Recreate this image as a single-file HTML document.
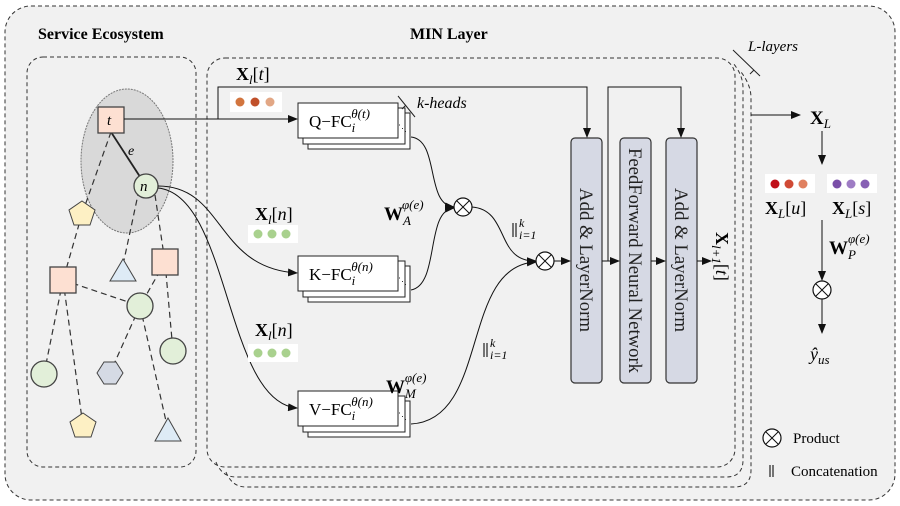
<!DOCTYPE html>
<html><head><meta charset="utf-8"><style>
body{margin:0;background:#fff}
svg{display:block;font-family:"Liberation Serif",serif}
</style></head><body>
<svg width="900" height="506" viewBox="0 0 900 506" xmlns="http://www.w3.org/2000/svg">
<defs>
<marker id="a" markerWidth="10" markerHeight="8" refX="9" refY="4" orient="auto" markerUnits="userSpaceOnUse"><path d="M0,0L10,4L0,8z" fill="#111"/></marker>
</defs>
<rect x="0" y="0" width="900" height="506" fill="#fff"/>
<rect x="5" y="6" width="890" height="494" rx="26" fill="#f1f1f1" stroke="#333" stroke-dasharray="4,3"/>
<text x="38" y="39" font-size="16" font-weight="bold">Service Ecosystem</text>
<text x="410" y="39" font-size="16" font-weight="bold">MIN Layer</text>
<rect x="27" y="57" width="169" height="410" rx="16" fill="none" stroke="#333" stroke-dasharray="4,3"/>
<!-- MIN layer stack -->
<rect x="207" y="58" width="528" height="409" rx="18" fill="none" stroke="#333" stroke-dasharray="4,3"/>
<path d="M216,462 Q222,477 236,477 L726,477 Q743,477 743,460 L743,88 Q743,75 733,63" fill="none" stroke="#333" stroke-dasharray="4,3"/>
<path d="M226,472 Q232,487 246,487 L734,487 Q751,487 751,470 L751,98 Q751,85 741,72" fill="none" stroke="#333" stroke-dasharray="4,3"/>
<path d="M733,50 L760,76 M754,70 L750,74" stroke="#222" fill="none"/>
<text x="748" y="51" font-size="15" font-style="italic">L-layers</text>
<!-- graph -->
<ellipse cx="127" cy="161" rx="46" ry="72" fill="#d9d9d9" stroke="#777" stroke-dasharray="2,1"/>
<g stroke="#333" stroke-width="1.2" fill="none" stroke-dasharray="6,4">
<line x1="111" y1="132" x2="82" y2="214"/><line x1="82" y1="214" x2="63" y2="280"/>
<line x1="139" y1="190" x2="123" y2="265"/><line x1="155" y1="195" x2="165" y2="262"/>
<line x1="63" y1="280" x2="140" y2="306"/><line x1="165" y1="262" x2="140" y2="306"/>
<line x1="165" y1="262" x2="173" y2="351"/><line x1="63" y1="280" x2="44" y2="374"/>
<line x1="63" y1="280" x2="83" y2="426"/><line x1="140" y1="306" x2="110" y2="373"/>
<line x1="140" y1="306" x2="168" y2="430"/>
</g>
<line x1="111" y1="132" x2="146" y2="186" stroke="#222" stroke-width="1.8"/>
<text x="128" y="155" font-size="14" font-style="italic">e</text>
<rect x="98" y="107" width="26" height="26" fill="#fde0d2" stroke="#444" stroke-width="1.3"/>
<text x="107" y="125" font-size="15" font-style="italic">t</text>
<circle cx="146" cy="186" r="12" fill="#e2efd9" stroke="#444" stroke-width="1.3"/>
<text x="140" y="191" font-size="15" font-style="italic">n</text>
<polygon points="82,201 95,210 90,225 74,225 69,210" fill="#fdf0c4" stroke="#444"/>
<polygon points="83,413 96,422 91,437 75,437 70,422" fill="#fdf0c4" stroke="#444"/>
<rect x="50" y="267" width="26" height="26" fill="#fde0d2" stroke="#444" stroke-width="1.3"/>
<rect x="152" y="249" width="26" height="26" fill="#fde0d2" stroke="#444" stroke-width="1.3"/>
<polygon points="123,259 136,281 110,281" fill="#deebf6" stroke="#444"/>
<polygon points="168,418 181,441 155,441" fill="#deebf6" stroke="#444"/>
<circle cx="140" cy="306" r="13" fill="#e2efd9" stroke="#444" stroke-width="1.3"/>
<circle cx="173" cy="351" r="13" fill="#e2efd9" stroke="#444" stroke-width="1.3"/>
<circle cx="44" cy="374" r="13" fill="#e2efd9" stroke="#444" stroke-width="1.3"/>
<polygon points="104,362 116,362 123,373 116,384 104,384 97,373" fill="#d5dae4" stroke="#444"/>
<!-- Q -->
<text x="236" y="80" font-size="18"><tspan font-weight="bold">X</tspan><tspan font-size="13" font-style="italic" dy="4">l</tspan><tspan dy="-4">[</tspan><tspan font-style="italic">t</tspan>]</text>
<rect x="230" y="92" width="52" height="20" fill="#fff"/>
<circle cx="240" cy="102" r="4.5" fill="#d2753f"/><circle cx="255" cy="102" r="4.5" fill="#c0502a"/><circle cx="270" cy="102" r="4.5" fill="#e2a785"/>
<path d="M124,119 L297,119" stroke="#111" fill="none" marker-end="url(#a)"/>
<path d="M218,119 L218,87 L587,87 L587,137" stroke="#111" fill="none" marker-end="url(#a)"/>
<g fill="#fff" stroke="#222">
<rect x="308" y="113" width="102" height="36"/><rect x="303" y="108" width="102" height="36"/><rect x="298" y="103" width="100" height="35"/>
<rect x="308" y="266" width="102" height="36"/><rect x="303" y="261" width="102" height="36"/><rect x="298" y="256" width="100" height="35"/>
<rect x="308" y="401" width="102" height="36"/><rect x="303" y="396" width="102" height="36"/><rect x="298" y="391" width="100" height="35"/>
</g>
<g font-size="17">
<text x="309" y="127">Q−FC<tspan font-size="13" font-style="italic" dy="5">i</tspan><tspan font-size="13" font-style="italic" dx="-4" dy="-14">θ(t)</tspan></text>
<text x="309" y="280">K−FC<tspan font-size="13" font-style="italic" dy="5">i</tspan><tspan font-size="13" font-style="italic" dx="-4" dy="-14">θ(n)</tspan></text>
<text x="309" y="415">V−FC<tspan font-size="13" font-style="italic" dy="5">i</tspan><tspan font-size="13" font-style="italic" dx="-4" dy="-14">θ(n)</tspan></text>
</g>
<g fill="#222"><text x="398" y="131" font-size="9">⋱</text><text x="398" y="284" font-size="9">⋱</text><text x="398" y="419" font-size="9">⋱</text></g>
<path d="M398,96 L415,117 M406,105 L402,109" stroke="#222" fill="none"/>
<text x="417" y="108" font-size="16" font-style="italic">k-heads</text>
<!-- n curves -->
<path d="M158,186 C225,186 215,268 297,273" stroke="#111" fill="none" marker-end="url(#a)"/>
<path d="M158,188 C230,195 225,402 297,408" stroke="#111" fill="none" marker-end="url(#a)"/>
<text x="255" y="220" font-size="18"><tspan font-weight="bold">X</tspan><tspan font-size="13" font-style="italic" dy="4">l</tspan><tspan dy="-4">[</tspan><tspan font-style="italic">n</tspan>]</text>
<rect x="248" y="225" width="50" height="18" fill="#fff"/>
<circle cx="258" cy="234" r="4.5" fill="#a9d18e"/><circle cx="272" cy="234" r="4.5" fill="#a9d18e"/><circle cx="286" cy="234" r="4.5" fill="#a9d18e"/>
<text x="255" y="336" font-size="18"><tspan font-weight="bold">X</tspan><tspan font-size="13" font-style="italic" dy="4">l</tspan><tspan dy="-4">[</tspan><tspan font-style="italic">n</tspan>]</text>
<rect x="248" y="344" width="50" height="18" fill="#fff"/>
<circle cx="258" cy="353" r="4.5" fill="#a9d18e"/><circle cx="272" cy="353" r="4.5" fill="#a9d18e"/><circle cx="286" cy="353" r="4.5" fill="#a9d18e"/>
<!-- merges -->
<path d="M411,137 C440,140 425,205 454,207" stroke="#111" fill="none" marker-end="url(#a)"/>
<path d="M411,290 C440,285 425,210 454,208" stroke="#111" fill="none" marker-end="url(#a)"/>
<path d="M472,207 C510,210 495,262 536,261" stroke="#111" fill="none" marker-end="url(#a)"/>
<path d="M411,424 C490,420 460,265 536,262" stroke="#111" fill="none" marker-end="url(#a)"/>
<g fill="#fff" stroke="#111" stroke-width="1.2">
<circle cx="463" cy="207" r="9"/><circle cx="545" cy="261" r="9"/>
</g>
<path d="M456.6,200.6l12.8,12.8M469.4,200.6l-12.8,12.8M538.6,254.6l12.8,12.8M551.4,254.6l-12.8,12.8" stroke="#111"/>
<text x="384" y="220" font-size="19"><tspan font-weight="bold">W</tspan><tspan font-size="13" font-style="italic" dy="5">A</tspan><tspan font-size="13" font-style="italic" dx="-9" dy="-16">φ(e)</tspan></text>
<text x="386" y="393" font-size="19"><tspan font-weight="bold">W</tspan><tspan font-size="13" font-style="italic" dy="5">M</tspan><tspan font-size="13" font-style="italic" dx="-11" dy="-16">φ(e)</tspan></text>
<g stroke="#222" stroke-width="1.2"><path d="M513,223v14M516,223v14M484,343v14M487,343v14M770,465v12M773,465v12"/></g>
<text x="519" y="227" font-size="12" font-style="italic">k</text><text x="519" y="239" font-size="12" font-style="italic">i=1</text>
<text x="490" y="347" font-size="12" font-style="italic">k</text><text x="490" y="359" font-size="12" font-style="italic">i=1</text>
<!-- norm blocks -->
<path d="M554,261 L570,261" stroke="#111" marker-end="url(#a)"/>
<g fill="#d6d9e4" stroke="#333" stroke-width="1.2">
<rect x="571" y="138" width="31" height="245" rx="4"/><rect x="620" y="138" width="31" height="245" rx="4"/><rect x="666" y="138" width="31" height="245" rx="4"/>
</g>
<g font-size="19" fill="#222">
<text transform="translate(580,188) rotate(90)" textLength="144" lengthAdjust="spacingAndGlyphs">Add &amp; LayerNorm</text>
<text transform="translate(629,148) rotate(90)" textLength="225" lengthAdjust="spacingAndGlyphs">FeedForward Neural Network</text>
<text transform="translate(675,188) rotate(90)" textLength="144" lengthAdjust="spacingAndGlyphs">Add &amp; LayerNorm</text>
</g>
<path d="M602,261 L619,261" stroke="#111" marker-end="url(#a)"/>
<path d="M608,261 L608,87 L681,87 L681,137" stroke="#111" fill="none" marker-end="url(#a)"/>
<path d="M651,261 L665,261" stroke="#111" marker-end="url(#a)"/>
<path d="M697,261 L711,261" stroke="#111" marker-end="url(#a)"/>
<text transform="translate(716,232) rotate(90)" font-size="18"><tspan font-weight="bold">X</tspan><tspan font-size="13" font-style="italic" dy="4">l+1</tspan><tspan dy="-4">[</tspan><tspan font-style="italic">t</tspan>]</text>
<!-- right -->
<path d="M751,115 L800,115" stroke="#111" marker-end="url(#a)"/>
<text x="810" y="124" font-size="19" font-weight="bold">X<tspan font-size="13" font-style="italic" font-weight="normal" dy="4">L</tspan></text>
<path d="M822,131 L822,164" stroke="#111" marker-end="url(#a)"/>
<rect x="765" y="174" width="50" height="19" fill="#fff"/>
<circle cx="775" cy="184" r="4.5" fill="#c0101a"/><circle cx="789" cy="184" r="4.5" fill="#d04a35"/><circle cx="803" cy="184" r="4.5" fill="#e08060"/>
<rect x="827" y="174" width="50" height="19" fill="#fff"/>
<circle cx="837" cy="184" r="4.5" fill="#7a4fa8"/><circle cx="851" cy="184" r="4.5" fill="#9e7cc4"/><circle cx="865" cy="184" r="4.5" fill="#8760b4"/>
<text x="765" y="214" font-size="18"><tspan font-weight="bold">X</tspan><tspan font-size="13" font-style="italic" dy="4">L</tspan><tspan dy="-4">[</tspan><tspan font-style="italic">u</tspan>]</text>
<text x="832" y="214" font-size="18"><tspan font-weight="bold">X</tspan><tspan font-size="13" font-style="italic" dy="4">L</tspan><tspan dy="-4">[</tspan><tspan font-style="italic">s</tspan>]</text>
<path d="M822,220 L822,280" stroke="#111" marker-end="url(#a)"/>
<text x="829" y="254" font-size="19"><tspan font-weight="bold">W</tspan><tspan font-size="13" font-style="italic" dy="5">P</tspan><tspan font-size="13" font-style="italic" dx="-8" dy="-16">φ(e)</tspan></text>
<circle cx="822" cy="290" r="9" fill="#fff" stroke="#111" stroke-width="1.2"/>
<path d="M815.6,283.6l12.8,12.8M828.4,283.6l-12.8,12.8" stroke="#111"/>
<path d="M822,299 L822,333" stroke="#111" marker-end="url(#a)"/>
<text x="810" y="360" font-size="18" font-style="italic">ŷ<tspan font-size="13" dy="4">us</tspan></text>
<circle cx="772" cy="438" r="9" fill="#fff" stroke="#111" stroke-width="1.2"/>
<path d="M765.6,431.6l12.8,12.8M778.4,431.6l-12.8,12.8" stroke="#111"/>
<text x="793" y="443" font-size="15">Product</text>
<text x="791" y="476" font-size="15">Concatenation</text>
</svg>
</body></html>
